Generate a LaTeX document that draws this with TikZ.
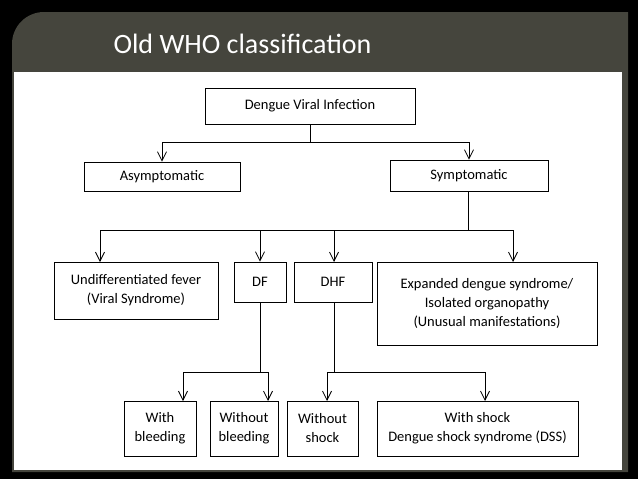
\documentclass[tikz,border=0pt]{standalone}
\usepackage{fontspec}
\setmainfont{Carlito}
\usetikzlibrary{arrows.meta}
\begin{document}
\begin{tikzpicture}[x=1pt,y=-1pt,
  bx/.style={draw=black,line width=0.9pt,fill=white,align=center,font=\fontsize{14.5}{19}\selectfont,inner sep=0pt},
  ar/.style={-{Straight Barb[length=9pt,width=9pt,line width=0.8pt]},line width=0.8pt},
  ln/.style={line width=0.8pt}]
\useasboundingbox (0,0) rectangle (638,479);
\fill[black] (0,0) rectangle (638,479);
\fill[fill={rgb,255:red,69;green,69;blue,61}] (12,72) -- (12,44) arc[start angle=180,end angle=270,radius=32] -- (628,12) -- (628,472) -- (12,472) -- cycle;
\fill[white] (14,72) rectangle (622,470);
\node[anchor=west,text=white,font=\fontsize{28}{32}\selectfont] (title) at (110,44) {Old WHO classification};
\node[bx,minimum width=210,minimum height=36] (dvi) at (310,106) {Dengue Viral Infection};
\node[bx,minimum width=156,minimum height=29] (asy) at (162,176.5) {Asymptomatic};
\node[bx,minimum width=158,minimum height=31] (sym) at (469,175.5) {Symptomatic};
\node[bx,minimum width=164,minimum height=57] (und) at (136,290.5) {Undifferentiated fever\\(Viral Syndrome)};
\node[bx,minimum width=52,minimum height=40] (df) at (260,282) {DF};
\node[bx,minimum width=78,minimum height=40] (dhf) at (333,282) {DHF};
\node[bx,minimum width=220,minimum height=83] (exp) at (487,303.5) {Expanded dengue syndrome/\\Isolated organopathy\\(Unusual manifestations)};
\node[bx,minimum width=72,minimum height=55] (wb) at (160,428.5) {With\\bleeding};
\node[bx,minimum width=68,minimum height=55] (wob) at (244,428.5) {Without\\bleeding};
\node[bx,minimum width=71,minimum height=55] (wos) at (322.5,428.5) {Without\\shock};
\node[bx,minimum width=201,minimum height=55] (ws) at (477.5,428.5) {With shock\\Dengue shock syndrome (DSS)};
\coordinate (j1) at (310,142);
\coordinate (j2) at (468,230);
\coordinate (j3) at (260,372);
\coordinate (j4) at (334,372);
\draw[ln] (dvi.south) -- (j1);
\draw[ar] (j1) -| (asy.north);
\draw[ar] (j1) -| (sym.north);
\draw[ln] (sym.south -| j2) -- (j2);
\draw[ar] (j2) -| (100,262);
\draw[ar] (j2) -| (df.north);
\draw[ar] (j2) -| (334,262);
\draw[ar] (j2) -| (513,262);
\draw[ln] (df.south) -- (j3);
\draw[ar] (j3) -| (183,401);
\draw[ar] (j3) -| (268,401);
\draw[ln] (dhf.south -| j4) -- (j4);
\draw[ar] (j4) -| (327,401);
\draw[ar] (j4) -| (485,401);
\end{tikzpicture}
\end{document}
